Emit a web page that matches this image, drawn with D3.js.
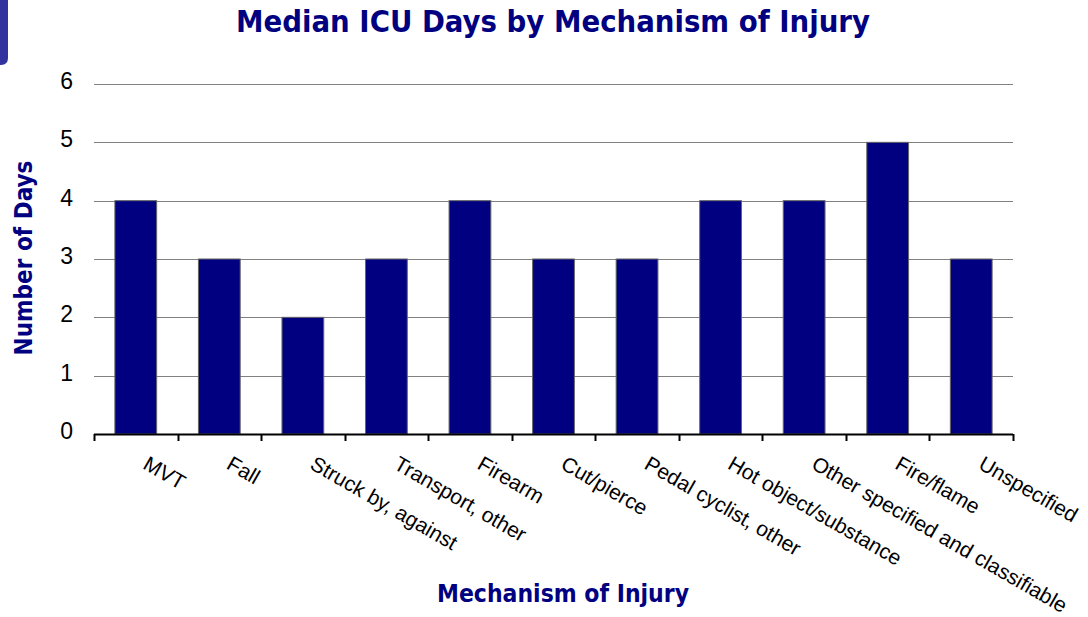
<!DOCTYPE html>
<html><head><meta charset="utf-8">
<script src="https://cdn.jsdelivr.net/npm/d3@7"></script>
<style>body{margin:0;background:#fff}svg{display:block}</style>
</head><body>
<svg id="c" width="1088" height="617"></svg>
<script>
const categories = ["MVT","Fall","Struck by, against","Transport, other","Firearm","Cut/pierce","Pedal cyclist, other","Hot object/substance","Other specified and classifiable","Fire/flame","Unspecified"];
const values = [4,3,2,3,4,3,3,4,4,5,3];
const yTicks = [0,1,2,3,4,5,6];

const svg = d3.select("#c");
const m = {l:94, r:1013, t:84, b:434};
const x = d3.scaleBand().domain(categories).range([m.l, m.r]).paddingInner(0.5).paddingOuter(0.25);
const y = d3.scaleLinear().domain([0,6]).range([m.b, m.t]);
const titleFont = "'DejaVu Sans Condensed', 'DejaVu Sans', Verdana, sans-serif";

function fit(sel, target){
  const n = sel.node();
  const w = n.getComputedTextLength();
  const fs = parseFloat(sel.attr("font-size"));
  if (w > 0) sel.attr("font-size", fs * target / w);
}

// corner decoration
svg.append("path").attr("d","M0,0 H8 V58 Q8,65 1,65 H0 Z").attr("fill","#3333a0");

// grid
svg.append("g").selectAll("line").data(yTicks.filter(d=>d>0)).join("line")
  .attr("x1",m.l).attr("x2",m.r).attr("y1",d=>Math.round(y(d))+0.5).attr("y2",d=>Math.round(y(d))+0.5)
  .attr("stroke","#808080").attr("stroke-width",1);

// y labels
svg.append("g").selectAll("text").data(yTicks).join("text")
  .attr("x",73).attr("y",d=>y(d)+5).attr("text-anchor","end")
  .attr("font-family","Liberation Sans, Arial, sans-serif").attr("font-size",23).attr("fill","#000")
  .text(d=>d);

// bars
svg.append("g").selectAll("rect").data(values).join("rect")
  .attr("x",(d,i)=>x(categories[i])).attr("width",x.bandwidth())
  .attr("y",d=>y(d)).attr("height",d=>y(0)-y(d))
  .attr("fill","#000080").attr("stroke","#666").attr("stroke-width",1);

// x axis line and ticks
const bounds = d3.range(categories.length+1).map(i=>m.l + i*(m.r-m.l)/categories.length);
svg.append("line").attr("x1",m.l).attr("x2",m.r).attr("y1",m.b+0.5).attr("y2",m.b+0.5).attr("stroke","#000").attr("stroke-width",2);
svg.append("g").selectAll("line").data(bounds).join("line")
  .attr("x1",d=>Math.round(d)+0.5).attr("x2",d=>Math.round(d)+0.5).attr("y1",m.b).attr("y2",m.b+7)
  .attr("stroke","#000").attr("stroke-width",2);

// x labels
svg.append("g").selectAll("text").data(categories).join("text")
  .attr("transform",d=>`translate(${x(d)+x.bandwidth()/2+6},${m.b+34}) rotate(30)`)
  .attr("text-anchor","start")
  .attr("font-family","Liberation Sans, Arial, sans-serif").attr("font-size",21).attr("fill","#000")
  .text(d=>d);

// title
const t = svg.append("text").attr("x",553).attr("y",32).attr("text-anchor","middle")
  .attr("font-family",titleFont).attr("font-weight","bold").attr("font-size",30).attr("fill","#000080")
  .text("Median ICU Days by Mechanism of Injury");
fit(t, 634);

// axis titles
const yt = svg.append("text").attr("transform","translate(32,258) rotate(-90)").attr("text-anchor","middle")
  .attr("font-family",titleFont).attr("font-weight","bold").attr("font-size",24).attr("fill","#000080")
  .text("Number of Days");
fit(yt, 195);
const xt = svg.append("text").attr("x",563).attr("y",602).attr("text-anchor","middle")
  .attr("font-family",titleFont).attr("font-weight","bold").attr("font-size",25).attr("fill","#000080")
  .text("Mechanism of Injury");
fit(xt, 252);
</script>
</body></html>
